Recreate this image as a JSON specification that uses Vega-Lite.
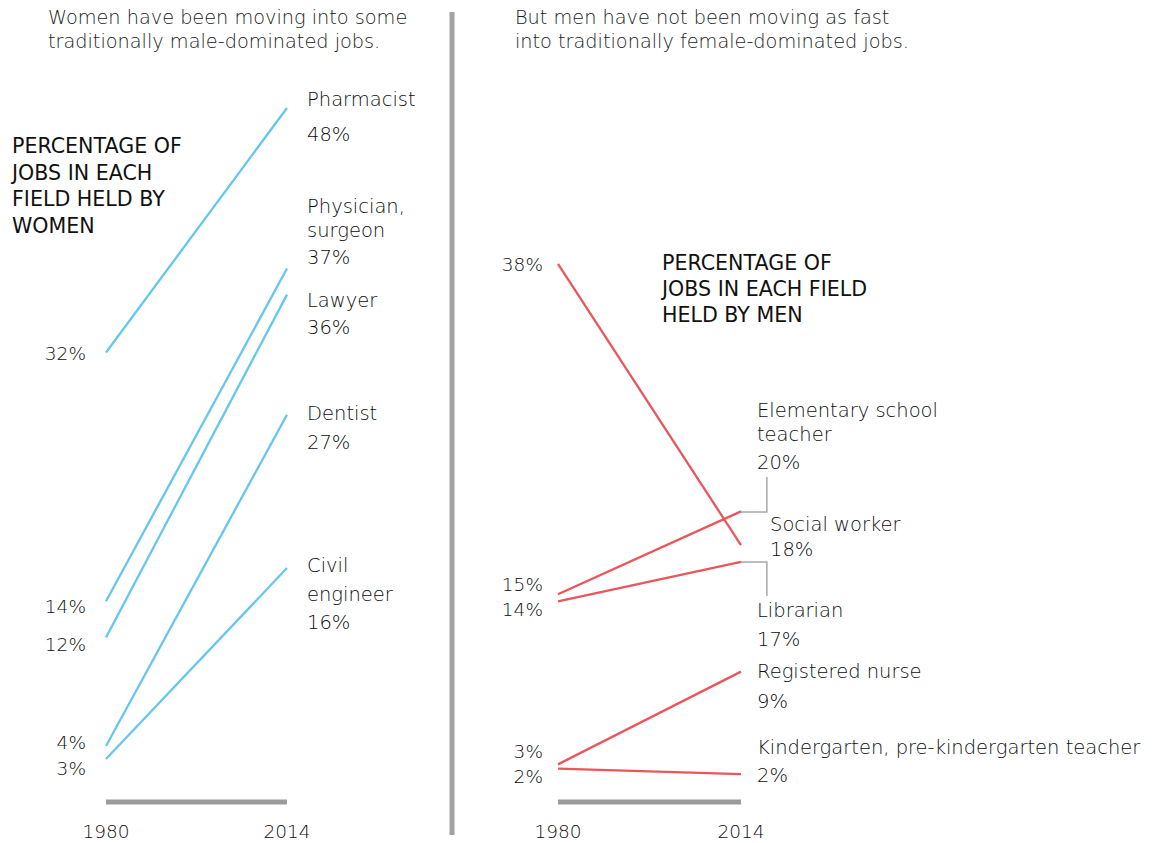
{
  "$schema": "https://vega.github.io/schema/vega-lite/v6.json",
  "width": 1155,
  "height": 843,
  "autosize": {"type": "fit", "contains": "padding"},
  "padding": 0,
  "background": "white",
  "config": {"view": {"stroke": null}, "text": {"font": "DejaVu Sans"}},
  "datasets": {
    "leftLines": [
      {"job": "Pharmacist", "year": 1980, "pct": 31.1},
      {"job": "Pharmacist", "year": 2014, "pct": 48.0},
      {"job": "Physician, surgeon", "year": 1980, "pct": 13.9},
      {"job": "Physician, surgeon", "year": 2014, "pct": 36.9},
      {"job": "Lawyer", "year": 1980, "pct": 11.4},
      {"job": "Lawyer", "year": 2014, "pct": 35.1},
      {"job": "Dentist", "year": 1980, "pct": 3.9},
      {"job": "Dentist", "year": 2014, "pct": 26.8},
      {"job": "Civil engineer", "year": 1980, "pct": 3.0},
      {"job": "Civil engineer", "year": 2014, "pct": 16.2}
    ],
    "rightLines": [
      {"job": "Social worker", "year": 1980, "pct": 38.0},
      {"job": "Social worker", "year": 2014, "pct": 18.0},
      {"job": "Elementary school teacher", "year": 1980, "pct": 14.5},
      {"job": "Elementary school teacher", "year": 2014, "pct": 20.4},
      {"job": "Librarian", "year": 1980, "pct": 14.0},
      {"job": "Librarian", "year": 2014, "pct": 16.8},
      {"job": "Registered nurse", "year": 1980, "pct": 2.4},
      {"job": "Registered nurse", "year": 2014, "pct": 9.0},
      {"job": "Kindergarten, pre-kindergarten teacher", "year": 1980, "pct": 2.1},
      {"job": "Kindergarten, pre-kindergarten teacher", "year": 2014, "pct": 1.7}
    ],
    "leftText": [
      {"kind": "title", "text": "Women have been moving into some", "year": 1969.1, "pct": 54.22},
      {"kind": "title", "text": "traditionally male-dominated jobs.", "year": 1969.1, "pct": 52.56},
      {"kind": "header", "text": "PERCENTAGE OF", "year": 1962.34, "pct": 45.3},
      {"kind": "header", "text": "JOBS IN EACH", "year": 1962.34, "pct": 43.44},
      {"kind": "header", "text": "FIELD HELD BY", "year": 1962.34, "pct": 41.64},
      {"kind": "header", "text": "WOMEN", "year": 1962.34, "pct": 39.77},
      {"kind": "end", "text": "Pharmacist", "year": 2017.76, "pct": 48.55},
      {"kind": "end", "text": "48%", "year": 2017.76, "pct": 46.13},
      {"kind": "end", "text": "Physician,", "year": 2017.76, "pct": 41.16},
      {"kind": "end", "text": "surgeon", "year": 2017.76, "pct": 39.5},
      {"kind": "end", "text": "37%", "year": 2017.76, "pct": 37.63},
      {"kind": "end", "text": "Lawyer", "year": 2017.76, "pct": 34.66},
      {"kind": "end", "text": "36%", "year": 2017.76, "pct": 32.79},
      {"kind": "end", "text": "Dentist", "year": 2017.76, "pct": 26.85},
      {"kind": "end", "text": "27%", "year": 2017.76, "pct": 24.84},
      {"kind": "end", "text": "Civil", "year": 2017.76, "pct": 16.34},
      {"kind": "end", "text": "engineer", "year": 2017.76, "pct": 14.34},
      {"kind": "end", "text": "16%", "year": 2017.76, "pct": 12.4},
      {"kind": "start", "text": "32%", "year": 1976.24, "pct": 30.99},
      {"kind": "start", "text": "14%", "year": 1976.24, "pct": 13.51},
      {"kind": "start", "text": "12%", "year": 1976.24, "pct": 10.88},
      {"kind": "start", "text": "4%", "year": 1976.24, "pct": 4.11},
      {"kind": "start", "text": "3%", "year": 1976.24, "pct": 2.31},
      {"kind": "axis", "text": "1980", "year": 1980, "pct": -2.05},
      {"kind": "axis", "text": "2014", "year": 2014, "pct": -2.05}
    ],
    "rightText": [
      {"kind": "title", "text": "But men have not been moving as fast", "year": 1972.01, "pct": 55.5},
      {"kind": "title", "text": "into traditionally female-dominated jobs.", "year": 1972.01, "pct": 53.79},
      {"kind": "header", "text": "PERCENTAGE OF", "year": 1999.32, "pct": 38.0},
      {"kind": "header", "text": "JOBS IN EACH FIELD", "year": 1999.32, "pct": 36.15},
      {"kind": "header", "text": "HELD BY MEN", "year": 1999.32, "pct": 34.3},
      {"kind": "start", "text": "38%", "year": 1977.21, "pct": 37.93},
      {"kind": "start", "text": "15%", "year": 1977.21, "pct": 15.16},
      {"kind": "start", "text": "14%", "year": 1977.21, "pct": 13.38},
      {"kind": "start", "text": "3%", "year": 1977.21, "pct": 3.28},
      {"kind": "start", "text": "2%", "year": 1977.21, "pct": 1.5},
      {"kind": "end", "text": "Elementary school", "year": 2016.97, "pct": 27.54},
      {"kind": "end", "text": "teacher", "year": 2016.97, "pct": 25.83},
      {"kind": "end", "text": "20%", "year": 2016.97, "pct": 23.84},
      {"kind": "end", "text": "Social worker", "year": 2019.39, "pct": 19.43},
      {"kind": "end", "text": "18%", "year": 2019.39, "pct": 17.65},
      {"kind": "end", "text": "Librarian", "year": 2016.97, "pct": 13.31},
      {"kind": "end", "text": "17%", "year": 2016.97, "pct": 11.25},
      {"kind": "end", "text": "Registered nurse", "year": 2016.97, "pct": 8.97},
      {"kind": "end", "text": "9%", "year": 2016.97, "pct": 6.84},
      {"kind": "end", "text": "Kindergarten, pre-kindergarten teacher", "year": 2016.97, "pct": 3.57},
      {"kind": "end", "text": "2%", "year": 2016.97, "pct": 1.57},
      {"kind": "axis", "text": "1980", "year": 1980, "pct": -2.41},
      {"kind": "axis", "text": "2014", "year": 2014, "pct": -2.41}
    ],
    "leftBar": [{"from": 1980, "to": 2014, "pct": 0.03}],
    "rightBar": [{"from": 1980, "to": 2014, "pct": -0.28}],
    "divider": [{"year": 2045.0, "top": 54.64, "bottom": -2.25}],
    "leaders": [
      {"id": "Elementary school teacher", "step": 1, "year": 2014, "pct": 20.36},
      {"id": "Elementary school teacher", "step": 2, "year": 2018.81, "pct": 20.36},
      {"id": "Elementary school teacher", "step": 3, "year": 2018.81, "pct": 22.85},
      {"id": "Librarian", "step": 1, "year": 2014, "pct": 16.8},
      {"id": "Librarian", "step": 2, "year": 2018.81, "pct": 16.8},
      {"id": "Librarian", "step": 3, "year": 2018.81, "pct": 14.38}
    ]
  },
  "layer": [
    {
      "encoding": {
        "x": {"field": "year", "type": "quantitative", "scale": {"domain": [1960.09, 2177.05], "nice": false, "zero": false}, "axis": null},
        "y": {"field": "pct", "type": "quantitative", "scale": {"domain": [-2.806, 55.464], "nice": false, "zero": false}, "axis": null}
      },
      "layer": [
        {
          "data": {"name": "divider"},
          "mark": {"type": "rule", "color": "#a3a3a3", "strokeWidth": 5},
          "encoding": {
            "y": {"field": "top", "type": "quantitative"},
            "y2": {"field": "bottom"}
          }
        },
        {
          "data": {"name": "leftBar"},
          "mark": {"type": "rule", "color": "#9b9b9b", "strokeWidth": 5},
          "encoding": {
            "x": {"field": "from", "type": "quantitative"},
            "x2": {"field": "to"}
          }
        },
        {
          "data": {"name": "leftLines"},
          "mark": {"type": "line", "color": "#66c6ef", "strokeWidth": 2.3},
          "encoding": {"detail": {"field": "job"}}
        },
        {
          "data": {"name": "leftText"},
          "transform": [{"filter": "datum.kind === 'title'"}],
          "mark": {"type": "text", "align": "left", "baseline": "middle", "fontSize": 19.3, "fontWeight": 200, "color": "#1a1a1a"},
          "encoding": {"text": {"field": "text"}}
        },
        {
          "data": {"name": "leftText"},
          "transform": [{"filter": "datum.kind === 'header'"}],
          "mark": {"type": "text", "align": "left", "baseline": "middle", "fontSize": 20.6, "fontWeight": 400, "color": "#111"},
          "encoding": {"text": {"field": "text"}}
        },
        {
          "data": {"name": "leftText"},
          "transform": [{"filter": "datum.kind === 'end'"}],
          "mark": {"type": "text", "align": "left", "baseline": "middle", "fontSize": 19.5, "fontWeight": 200, "color": "#0d0d0d"},
          "encoding": {"text": {"field": "text"}}
        },
        {
          "data": {"name": "leftText"},
          "transform": [{"filter": "datum.kind === 'start'"}],
          "mark": {"type": "text", "align": "right", "baseline": "middle", "fontSize": 18.5, "fontWeight": 200, "color": "#0d0d0d"},
          "encoding": {"text": {"field": "text"}}
        },
        {
          "data": {"name": "leftText"},
          "transform": [{"filter": "datum.kind === 'axis'"}],
          "mark": {"type": "text", "align": "center", "baseline": "middle", "fontSize": 18.5, "fontWeight": 200, "color": "#0d0d0d"},
          "encoding": {"text": {"field": "text"}}
        }
      ]
    },
    {
      "encoding": {
        "x": {"field": "year", "type": "quantitative", "scale": {"domain": [1876.33, 2090.92], "nice": false, "zero": false}, "axis": null},
        "y": {"field": "pct", "type": "quantitative", "scale": {"domain": [-3.194, 56.78], "nice": false, "zero": false}, "axis": null}
      },
      "layer": [
        {
          "data": {"name": "rightBar"},
          "mark": {"type": "rule", "color": "#9b9b9b", "strokeWidth": 5},
          "encoding": {
            "x": {"field": "from", "type": "quantitative"},
            "x2": {"field": "to"}
          }
        },
        {
          "data": {"name": "leaders"},
          "mark": {"type": "line", "color": "#a8a8a8", "strokeWidth": 1.5},
          "encoding": {"detail": {"field": "id"}, "order": {"field": "step", "type": "quantitative"}}
        },
        {
          "data": {"name": "rightLines"},
          "mark": {"type": "line", "color": "#e9565b", "strokeWidth": 2.3},
          "encoding": {"detail": {"field": "job"}}
        },
        {
          "data": {"name": "rightText"},
          "transform": [{"filter": "datum.kind === 'title'"}],
          "mark": {"type": "text", "align": "left", "baseline": "middle", "fontSize": 19.3, "fontWeight": 200, "color": "#1a1a1a"},
          "encoding": {"text": {"field": "text"}}
        },
        {
          "data": {"name": "rightText"},
          "transform": [{"filter": "datum.kind === 'header'"}],
          "mark": {"type": "text", "align": "left", "baseline": "middle", "fontSize": 20.6, "fontWeight": 400, "color": "#111"},
          "encoding": {"text": {"field": "text"}}
        },
        {
          "data": {"name": "rightText"},
          "transform": [{"filter": "datum.kind === 'end'"}],
          "mark": {"type": "text", "align": "left", "baseline": "middle", "fontSize": 19.5, "fontWeight": 200, "color": "#0d0d0d"},
          "encoding": {"text": {"field": "text"}}
        },
        {
          "data": {"name": "rightText"},
          "transform": [{"filter": "datum.kind === 'start'"}],
          "mark": {"type": "text", "align": "right", "baseline": "middle", "fontSize": 18.5, "fontWeight": 200, "color": "#0d0d0d"},
          "encoding": {"text": {"field": "text"}}
        },
        {
          "data": {"name": "rightText"},
          "transform": [{"filter": "datum.kind === 'axis'"}],
          "mark": {"type": "text", "align": "center", "baseline": "middle", "fontSize": 18.5, "fontWeight": 200, "color": "#0d0d0d"},
          "encoding": {"text": {"field": "text"}}
        }
      ]
    }
  ],
  "resolve": {"scale": {"x": "independent", "y": "independent"}}
}
